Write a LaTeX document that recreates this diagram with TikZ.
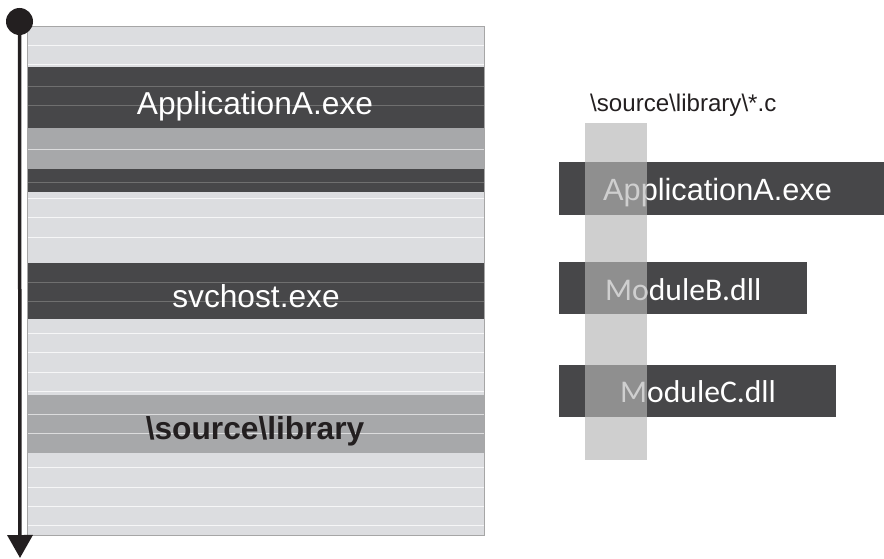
\documentclass[tikz,border=0pt]{standalone}
\usepackage{fontspec}
\setmainfont{Liberation Sans}
\newfontfamily\calibri{Carlito}
\usepackage{tikz}
\usetikzlibrary{arrows.meta}

\definecolor{bandDark}{RGB}{71,71,73}
\definecolor{bandMid}{RGB}{167,168,170}
\definecolor{bandLight}{RGB}{220,221,224}
\definecolor{inkBlack}{RGB}{35,31,32}
\definecolor{stripGray}{RGB}{182,182,182}

\tikzset{
  rowline/.style={draw=white!75!bandLight, line width=0.9pt},
  darkline/.style={draw=gray!70!bandDark, line width=0.9pt},
  midline/.style={draw=white!60!bandMid, line width=0.9pt},
  bigtext/.style={inner sep=0pt, anchor=base, font=\fontsize{31.7}{34}\selectfont},
  boxtext/.style={inner sep=0pt, anchor=base west, text=white},
}

\begin{document}
\begin{tikzpicture}[x=1pt,y=-1pt]
		\useasboundingbox (0,0) rectangle (884,559);
		% memory column
		\fill[bandLight] (27,26) rectangle (484,535);
		\draw[rowline] (27,45) -- (484,45) (27,64) -- (484,64)
		               (27,198) -- (484,198) (27,217) -- (484,217) (27,237) -- (484,237)
		               (27,333) -- (484,333) (27,352) -- (484,352) (27,372) -- (484,372) (27,391) -- (484,391)
		               (27,467) -- (484,467) (27,487) -- (484,487) (27,506) -- (484,506) (27,525) -- (484,525);
		\fill[bandDark] (27,67) rectangle (484,128);
		\draw[darkline] (27,86) -- (484,86) (27,105) -- (484,105);
		\fill[bandMid] (27,128) rectangle (484,169);
		\draw[midline] (27,149) -- (484,149);
		\fill[bandDark] (27,169) rectangle (484,192);
		\draw[darkline] (27,182) -- (484,182);
		\fill[bandDark] (27,263) rectangle (484,319);
		\draw[darkline] (27,282) -- (484,282) (27,301) -- (484,301);
		\fill[bandMid] (27,395) rectangle (484,453);
		\draw[midline] (27,414) -- (484,414) (27,433) -- (484,433);
		\draw[gray!70, line width=0.8pt] (27,26) rectangle (484,535);
		\node[bigtext, text=white] (appA) at (255,115) {ApplicationA.exe};
		\node[bigtext, text=white] (svc) at (256,307) {svchost.exe};
		\node[bigtext, text=inkBlack, font=\fontsize{31.7}{34}\selectfont\bfseries] (lib) at (255,439) {\textbackslash source\textbackslash library};
		% time axis
		\node[circle, fill=inkBlack, minimum size=27pt, inner sep=0pt] (start) at (19.5,21.5) {};
		\coordinate (stop) at (20,558);
		\draw[inkBlack, line width=3.5pt, -{Triangle[width=25pt,length=23pt]}] (start) -- (stop);
		% modules
		\node[inner sep=0pt, anchor=base west, font=\fontsize{24.1}{26}\selectfont, text=inkBlack] (path) at (590,112) {\textbackslash source\textbackslash library\textbackslash *.c};
		\fill[bandDark] (559,162) rectangle (884,215);
		\fill[bandDark] (559,262) rectangle (807,314);
		\fill[bandDark] (559,365) rectangle (836,417);
		\node[boxtext, font=\fontsize{30.7}{33}\selectfont] (appB) at (603,200.5) {ApplicationA.exe};
		\node[boxtext, font=\calibri\fontsize{31.6}{34}\selectfont] (modB) at (605,300) {ModuleB.dll};
		\node[boxtext, font=\calibri\fontsize{31.6}{34}\selectfont] (modC) at (620,402.5) {ModuleC.dll};
		\fill[stripGray, fill opacity=0.65] (585,123) rectangle (647,460);
	\end{tikzpicture}
\end{document}
